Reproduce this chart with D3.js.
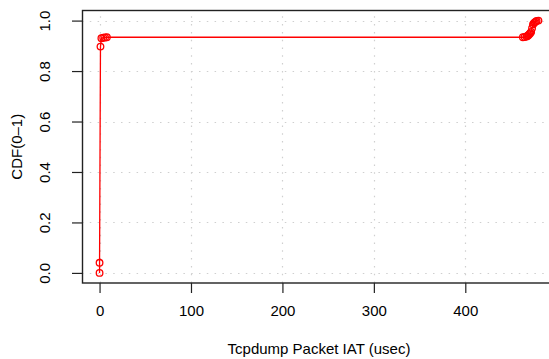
<!DOCTYPE html>
<html>
<head>
<meta charset="utf-8">
<script src="https://cdn.jsdelivr.net/npm/d3@7"></script>
<style>
  html, body { margin: 0; padding: 0; background: #fff; }
  svg { display: block; }
  text { font-family: "Liberation Sans", Arial, Helvetica, sans-serif; fill: #000; }
</style>
</head>
<body>
<svg id="chart" width="549" height="359"></svg>
<script>
// Empirical CDF of tcpdump packet inter-arrival times (usec)
const iatUsec = [0, 0, 1, 2, 4, 6, 8,
  463, 465, 467, 468, 469, 470, 471, 472, 473,
  474, 475, 476, 477, 478, 480];
const cdf = [0.00, 0.04, 0.897, 0.93, 0.932, 0.933, 0.934,
  0.934, 0.935, 0.937, 0.939, 0.942, 0.946, 0.950, 0.955, 0.97,
  0.985, 0.99, 0.993, 0.996, 0.999, 1.0];
const xTicks = [0, 100, 200, 300, 400];
const yTicks = [0.0, 0.2, 0.4, 0.6, 0.8, 1.0];
const xTitle = "Tcpdump Packet IAT (usec)";
const yTitle = "CDF(0\u20131)";

const svg = d3.select("#chart");
const plotLeft = 82, plotTop = 10.5, plotBottom = 283, plotRight = 556;
const fontSize = 15;

// R-style 4% padding around the data range
const xMin = 0, xMax = 480;
const xPad = 0.04 * (xMax - xMin);
const x = d3.scaleLinear().domain([xMin - xPad, xMax + xPad]).range([plotLeft, plotRight]);
const y = d3.scaleLinear().domain([-0.04, 1.04]).range([plotBottom, plotTop]);

// dotted grid
const grid = svg.append("g").attr("stroke", "#cfcfcf").attr("stroke-width", 1.2)
  .attr("stroke-dasharray", "1.5,6.3");
grid.selectAll("line.v").data(xTicks).join("line").attr("class", "v")
  .attr("x1", d => Math.round(x(d)) + 0.5).attr("x2", d => Math.round(x(d)) + 0.5)
  .attr("y1", plotBottom).attr("y2", plotTop);
grid.selectAll("line.h").data(yTicks).join("line").attr("class", "h")
  .attr("y1", d => Math.round(y(d)) + 0.5).attr("y2", d => Math.round(y(d)) + 0.5)
  .attr("x1", plotLeft).attr("x2", plotRight);

// CDF line and point markers
const line = d3.line().x((d, i) => x(iatUsec[i])).y(d => y(d));
svg.append("path").datum(cdf).attr("d", line)
  .attr("fill", "none").attr("stroke", "#ff0000").attr("stroke-width", 1.3);
svg.append("g").selectAll("circle").data(cdf).join("circle")
  .attr("cx", (d, i) => x(iatUsec[i])).attr("cy", d => y(d)).attr("r", 3.3)
  .attr("fill", "none").attr("stroke", "#ff0000").attr("stroke-width", 1.3);

// plot box
svg.append("rect").attr("x", plotLeft + 0.5).attr("y", plotTop).attr("width", plotRight - plotLeft)
  .attr("height", plotBottom - plotTop).attr("fill", "none").attr("stroke", "#222").attr("stroke-width", 1.4);

// axes
const xAxis = d3.axisBottom(x).tickValues(xTicks).tickSize(10).tickPadding(12).tickFormat(d3.format("d"));
const gx = svg.append("g").attr("transform", `translate(0,${plotBottom})`).call(xAxis);
gx.select(".domain").remove();
gx.selectAll("line").attr("stroke", "#222").attr("stroke-width", 1.2);
gx.selectAll("text").attr("font-size", fontSize).attr("font-family", "Liberation Sans, Arial, sans-serif");

const yAxis = d3.axisLeft(y).tickValues(yTicks).tickSize(10).tickFormat(d3.format(".1f"));
const gy = svg.append("g").attr("transform", `translate(${plotLeft},0)`).call(yAxis);
gy.select(".domain").remove();
gy.selectAll("line").attr("stroke", "#222").attr("stroke-width", 1.2);
gy.selectAll("text")
  .attr("x", null)
  .attr("text-anchor", "middle")
  .attr("font-size", fontSize).attr("font-family", "Liberation Sans, Arial, sans-serif")
  .attr("transform", "translate(-37,0) rotate(-90)")
  .attr("dy", "0.35em");

// axis titles
svg.append("text").attr("x", (plotLeft + plotRight) / 2).attr("y", 354)
  .attr("text-anchor", "middle").attr("font-size", fontSize).text(xTitle);
svg.append("text").attr("transform", `translate(22,${(plotTop + plotBottom) / 2}) rotate(-90)`)
  .attr("text-anchor", "middle").attr("font-size", fontSize).text(yTitle);
</script>
</body>
</html>
